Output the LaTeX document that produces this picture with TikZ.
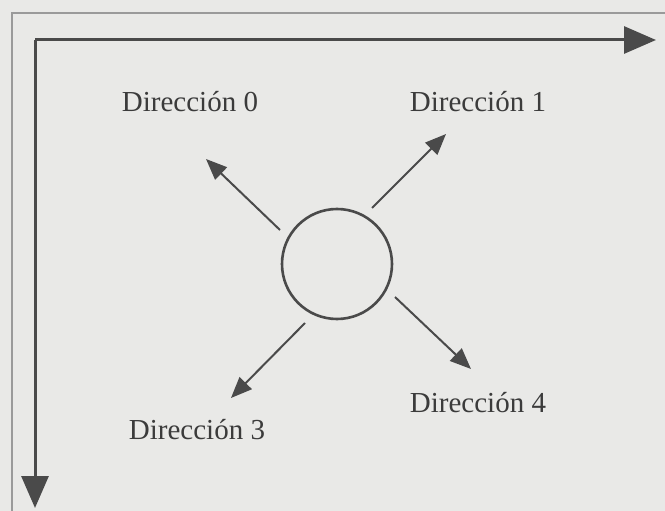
\documentclass[tikz,border=0pt]{standalone}
\usepackage{fontspec}
\setmainfont{Liberation Serif}
\usetikzlibrary{arrows.meta}
\definecolor{paper}{HTML}{E9E9E7}
\definecolor{ink}{HTML}{4A4A4A}
\definecolor{frame}{HTML}{9A9A9A}
\tikzset{
  axis/.style={draw=ink, line width=3pt, -{Triangle[length=32pt,width=27pt]}},
  dirarrow/.style={draw=ink, line width=2pt, -{Triangle[length=21pt,width=17pt]}},
  lbl/.style={font=\fontsize{29}{30}\selectfont, text=ink!80!black, inner sep=0pt},
}
\begin{document}
\begin{tikzpicture}[x=1pt,y=-1pt]
\fill[paper] (0,0) rectangle (665,511);
\useasboundingbox (0,0) rectangle (665,511);
% frame
\coordinate (fa) at (12,511);
\coordinate (fb) at (12,13);
\coordinate (fc) at (665,13);
\draw[frame, line width=1.6pt] (fa) -- (fb) -- (fc);
% axes
\coordinate (o) at (35,40);
\coordinate (ex) at (656,40);
\coordinate (ey) at (35,508);
\draw[axis] (o) -- (ex);
\draw[axis] (o) -- (ey);
% circle
\node[circle, draw=ink, line width=2.6pt, minimum size=110pt, inner sep=0pt] (c) at (337,264) {};
% arrows
\coordinate (s0) at (280,230); \coordinate (t0) at (206,159);
\coordinate (s1) at (372,208); \coordinate (t1) at (446,134);
\coordinate (s3) at (305,323); \coordinate (t3) at (231,398);
\coordinate (s4) at (395,297); \coordinate (t4) at (471,369);
\draw[dirarrow] (s0) -- (t0);
\draw[dirarrow] (s1) -- (t1);
\draw[dirarrow] (s3) -- (t3);
\draw[dirarrow] (s4) -- (t4);
% labels
\node[lbl] (l0) at (190,102) {Dirección 0};
\node[lbl] (l1) at (478,102) {Dirección 1};
\node[lbl] (l3) at (197,430) {Dirección 3};
\node[lbl] (l4) at (478,403) {Dirección 4};
\end{tikzpicture}
\end{document}
